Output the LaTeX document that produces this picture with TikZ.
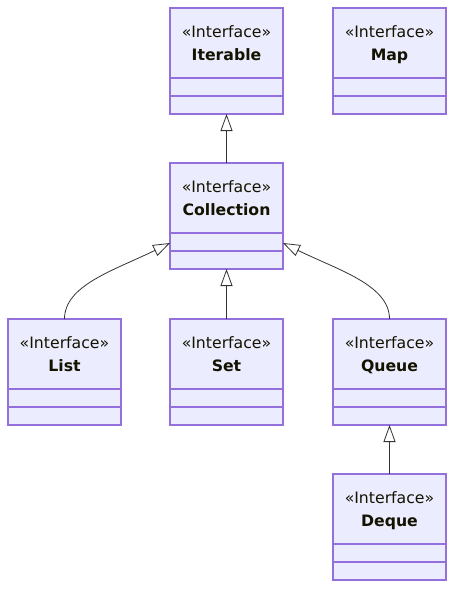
\documentclass[tikz,border=0pt]{standalone}
\usepackage{fontspec}
\setmainfont{DejaVu Sans}
\usetikzlibrary{arrows.meta,calc}
\definecolor{boxfill}{HTML}{ECECFF}
\definecolor{boxline}{HTML}{9370DB}
\definecolor{edgecol}{HTML}{333333}
\definecolor{txt}{HTML}{131300}
\tikzset{
 classbox/.style={draw=boxline, fill=boxfill, line width=1.3pt, minimum width=113pt, minimum height=106pt, anchor=north west, inner sep=0pt, outer sep=0pt},
 stereo/.style={font=\fontsize{15.7}{18}\selectfont, text=txt, anchor=base, inner sep=0pt},
 cname/.style={font=\fontsize{15.7}{18}\selectfont\bfseries, text=txt, anchor=base, inner sep=0pt},
 divider/.style={draw=boxline, line width=1.3pt},
 inherit/.style={draw=edgecol, line width=0.8pt, -{Triangle[open, length=17pt, width=12pt, fill=white]}},
}
\newcommand\ifacebox[4]{%
 \node[classbox] (#1) at (#2,#3) {};
 \node[stereo] (#1-st) at ($(#1.north)+(0,29)$) {«Interface»};
 \node[cname] (#1-nm) at ($(#1.north)+(0,52)$) {#4};
 \draw[divider] ($(#1.north west)+(0,70)$) -- ($(#1.north east)+(0,70)$);
 \draw[divider] ($(#1.north west)+(0,88)$) -- ($(#1.north east)+(0,88)$);
}
\begin{document}
\begin{tikzpicture}[x=1pt,y=-1pt]
\useasboundingbox (0,0) rectangle (462,598);
\ifacebox{Iterable}{170}{8}{Iterable}
\ifacebox{Map}{333}{8}{Map}
\ifacebox{Collection}{170}{163}{Collection}
\ifacebox{List}{8}{319}{List}
\ifacebox{Set}{170}{319}{Set}
\ifacebox{Queue}{333}{319}{Queue}
\ifacebox{Deque}{333}{474}{Deque}
\coordinate (cl) at ($(Collection.north west)+(0,80)$);
\coordinate (cr) at ($(Collection.north east)+(0,80)$);
\draw[inherit] (Collection.north) -- (Iterable.south);
\draw[inherit] (Set.north) -- (Collection.south);
\draw[inherit] (Deque.north) -- (Queue.south);
\draw[inherit] (List.north) .. controls +(0,-34) and +(-55,27) .. (cl);
\draw[inherit] (Queue.north) .. controls +(0,-34) and +(55,27) .. (cr);
\end{tikzpicture}
\end{document}
